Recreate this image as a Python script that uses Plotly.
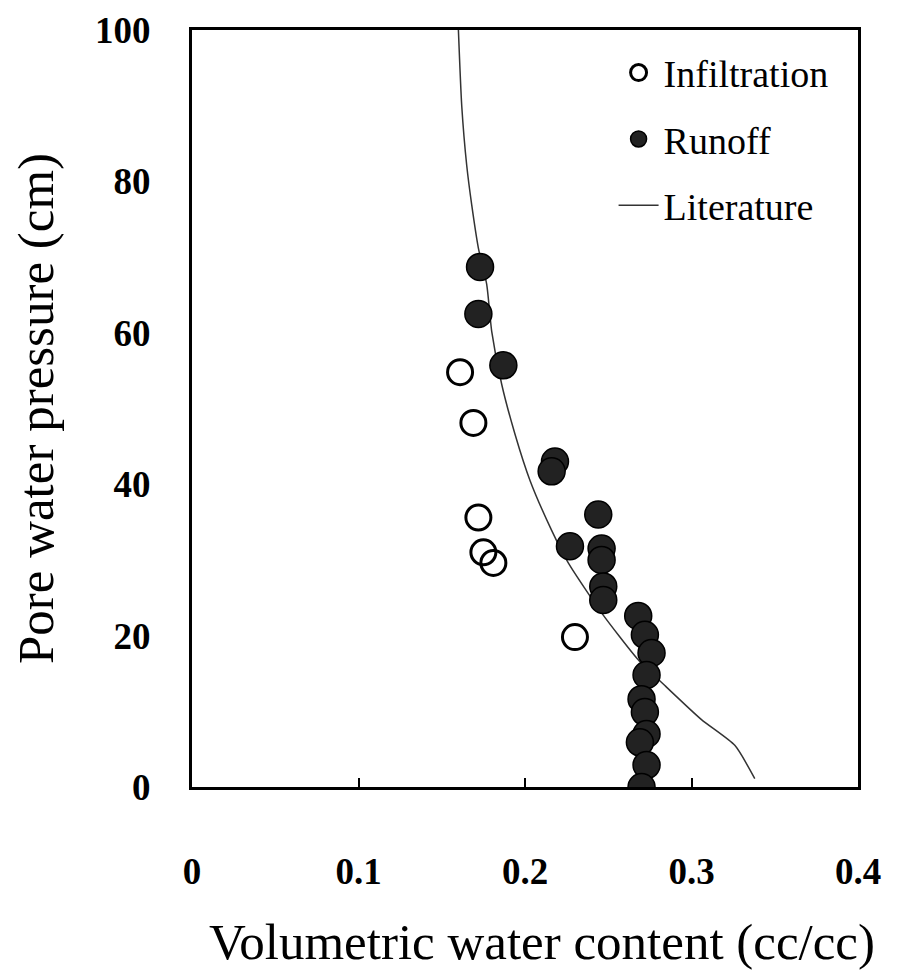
import plotly.graph_objects as go

# Infiltration (open circles)
inf_theta = [0.161, 0.169, 0.172, 0.175, 0.181, 0.230]
inf_psi = [54.8, 48.1, 35.6, 31.0, 29.6, 19.8]

# Runoff (filled circles)
run_theta = [0.173, 0.172, 0.187, 0.218, 0.216, 0.244, 0.227, 0.246, 0.246,
             0.247, 0.247, 0.268, 0.272, 0.276, 0.273, 0.270, 0.272, 0.273,
             0.269, 0.273, 0.270]
run_psi = [68.7, 62.5, 55.7, 43.0, 41.7, 36.0, 31.8, 31.5, 30.0,
           26.5, 24.7, 22.6, 20.1, 17.7, 14.8, 11.6, 9.9, 7.0,
           5.9, 2.9, 0.0]

# Literature curve
lit_theta = [0.160, 0.162, 0.165, 0.168, 0.172, 0.177, 0.180, 0.186, 0.194,
             0.203, 0.216, 0.226, 0.246, 0.268, 0.284, 0.306, 0.326, 0.338]
lit_psi = [100.0, 90.0, 82.1, 76.9, 71.2, 66.4, 60.2, 53.2, 46.6,
           40.5, 33.9, 29.6, 23.0, 16.8, 13.4, 8.9, 5.5, 1.1]

x_ticks = [0, 0.1, 0.2, 0.3, 0.4]
x_ticklabels = ["0", "0.1", "0.2", "0.3", "0.4"]
y_ticks = [0, 20, 40, 60, 80, 100]

FONT = "Liberation Serif"

fig = go.Figure()
fig.add_trace(go.Scatter(
    x=lit_theta, y=lit_psi, mode="lines", name="Literature",
    line=dict(color="#333333", width=1.5, shape="spline", smoothing=0.6),
    legendrank=3, legendgroup="c"))
fig.add_trace(go.Scatter(
    x=inf_theta, y=inf_psi, mode="markers", name="Infiltration",
    marker=dict(symbol="circle-open", size=25, color="black",
                line=dict(width=3, color="black")),
    legendrank=1, legendgroup="a"))
fig.add_trace(go.Scatter(
    x=run_theta, y=run_psi, mode="markers", name="Runoff",
    marker=dict(symbol="circle", size=27, color="#222222",
                line=dict(width=1.5, color="black")),
    legendrank=2, legendgroup="b"))

fig.add_annotation(
    text="Volumetric water content (cc/cc)", xref="paper", yref="paper",
    x=0.526, y=-0.205, xanchor="center", yanchor="middle", showarrow=False,
    font=dict(size=51, family=FONT, color="black"))

fig.update_layout(
    width=895, height=965,
    margin=dict(l=184, r=45, t=22, b=186, autoexpand=False),
    paper_bgcolor="white", plot_bgcolor="white",
    font=dict(family=FONT, color="black"),
    showlegend=True,
    legend=dict(x=0.633, y=0.985, xanchor="left", yanchor="top",
                font=dict(size=38, family="Times New Roman", color="black"),
                bgcolor="rgba(0,0,0,0)", tracegroupgap=14,
                itemwidth=40),
    xaxis=dict(range=[0, 0.4], tickvals=x_ticks, ticktext=x_ticklabels,
               ticks="inside", ticklen=9, tickwidth=1.5, tickcolor="black",
               showline=True, linewidth=3, linecolor="black", mirror=True,
               showgrid=False, zeroline=False, automargin=False,
               ticklabeloverflow="allow",
               tickfont=dict(size=37, family=FONT, weight="bold"),
               ticklabelstandoff=50),
    yaxis=dict(range=[0, 100], tickvals=y_ticks,
               ticks="", showline=True, linewidth=3, linecolor="black",
               mirror=True, showgrid=False, zeroline=False, automargin=False,
               ticklabeloverflow="allow",
               tickfont=dict(size=37, family=FONT, weight="bold"),
               ticklabelstandoff=31,
               title=dict(text="Pore water pressure (cm)",
                          font=dict(size=51, family=FONT), standoff=26)),
)

fig.write_html("out.html")
